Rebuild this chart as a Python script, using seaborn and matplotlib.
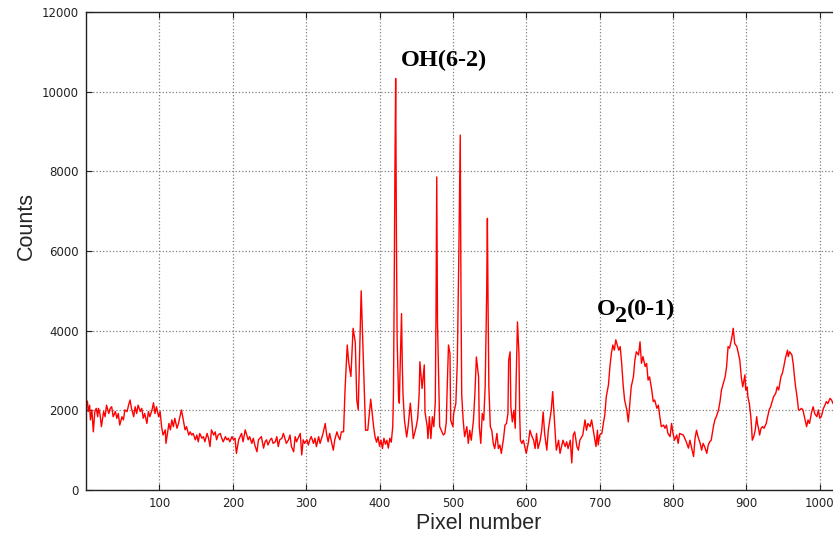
import matplotlib
matplotlib.use("Agg")
import matplotlib.pyplot as plt
import seaborn as sns

# Spectrum (pixel number, counts)
pixel = [
    0, 2, 3, 5, 6, 8, 10, 12, 14, 16, 17, 19, 21, 24, 26, 28, 31, 33, 35, 37,
    40, 42, 44, 46, 49, 51, 53, 56, 58, 60, 62, 65, 67, 69, 71, 74, 76, 78, 80, 83,
    85, 87, 90, 92, 94, 96, 99, 101, 103, 105, 108, 109, 111, 113, 115, 117, 119, 121, 124, 126,
    128, 130, 131, 133, 135, 137, 140, 142, 144, 146, 149, 151, 153, 155, 158, 160, 162, 165, 167, 169,
    171, 174, 176, 178, 180, 183, 185, 187, 190, 192, 194, 196, 199, 201, 203, 205, 208,
    210, 212, 214, 217, 219, 221, 223, 226, 228, 230, 233, 235, 237, 239, 242, 244, 246, 248, 251, 253,
    255, 258, 260, 262, 264, 267, 269, 271, 273, 276, 278, 280, 283, 285, 287, 289, 292, 294, 296, 298,
    301, 303, 305, 307, 310, 312, 314, 317, 319, 321, 323, 326, 328, 330, 332, 335, 337, 339, 342, 344,
    346, 348, 351,
    353, 356, 358, 361, 364, 367, 369, 371, 373, 375, 378, 381, 384, 386, 388, 392, 394, 396, 398, 400,
    402, 404, 406, 408, 410, 412, 414, 416, 418, 419, 420, 421, 422, 423, 424, 426, 427, 428, 430, 431,
    432, 434, 437, 439, 442, 444, 446, 450, 452, 454, 455, 458, 461, 462, 465, 466, 468, 470, 472, 474,
    476, 477, 478, 479, 481, 482, 487, 489, 491, 492, 494, 496, 497, 500, 501, 504, 506, 508, 510, 511,
    512, 514, 516, 519, 521, 523, 525, 528, 530, 532, 535, 536, 538, 540, 542, 544, 546, 547, 548, 549,
    551, 553, 555, 557, 560, 562, 564, 566, 569, 571, 573, 575, 576, 578, 579, 581, 583, 585, 586, 588,
    590, 591, 592, 594, 596, 598, 600, 603, 605, 607, 610, 612, 614, 616, 619, 621, 623, 625, 628, 630,
    632, 634, 636, 638, 640, 641, 644, 646, 648, 650, 653, 655, 657, 660, 662, 664, 666, 669, 671,
    673, 677, 680, 682, 684, 687, 689, 692, 695, 697, 698, 700, 703, 705, 707, 709, 712, 714, 716, 718,
    720, 722, 724, 726, 728, 730, 732, 734, 737, 739, 740, 743, 746, 748, 750, 753, 755, 757, 759, 762,
    764, 766, 768, 771, 773, 775, 778, 780, 782, 784, 787, 789, 791, 793, 796, 798, 800, 802, 805, 807,
    809, 814, 818, 821,
    823, 825, 828, 830, 832, 834, 837, 839, 841, 843, 846, 848, 850, 852, 855, 857, 859, 862, 864, 866,
    868, 871, 873, 875, 877, 880, 882, 884, 887, 889, 891, 893, 895, 897, 898, 899, 901, 902, 904, 906,
    907, 908, 910, 912, 914, 915, 917, 918, 920, 922, 924, 927, 928, 931, 933, 935, 937, 940, 942, 944,
    947, 949, 951, 953, 956, 957, 959, 962, 964, 965, 967, 969, 971, 973, 975, 977, 980, 982, 984, 986,
    989, 991, 993, 996, 998, 1000, 1002, 1005, 1007, 1009, 1011, 1014, 1016, 1018,
]
counts = [
    2260, 2220, 1970, 2130, 1760, 2010, 1460, 1970, 2050, 1840, 2050, 1920, 1590, 1970, 1840, 2130, 1920, 2050, 2090, 1840,
    1970, 1800, 1920, 1630, 1840, 1760, 2010, 1970, 2130, 2260, 2050, 1840, 2090, 1920, 2130, 1970, 2050, 1800, 1920, 1670,
    1970, 1840, 2010, 2190, 1920, 2090, 1840, 1970, 1590, 1380, 1510, 1170, 1420, 1670, 1510, 1760, 1590, 1800, 1550, 1670,
    1840, 2010, 1920, 1720, 1510, 1590, 1380, 1460, 1380, 1420, 1260, 1380, 1210, 1420, 1300, 1340, 1210, 1420, 1300, 1090,
    1510, 1380, 1460, 1260, 1380, 1420, 1300, 1210, 1340, 1260, 1300, 1210, 1340, 1260, 1300, 920, 1260,
    1340, 1420, 1210, 1510, 1380, 1260, 1340, 1170, 1300, 1130, 960, 1260, 1300, 1340, 1050, 1210, 1260, 1130, 1260, 1300,
    1170, 1210, 1340, 1090, 1260, 1300, 1420, 1300, 1170, 1260, 1380, 1090, 960, 1340, 1210, 1300, 1420, 880, 1260, 1170,
    1260, 1130, 1260, 1340, 1170, 1300, 1090, 1340, 1170, 1300, 1420, 1670, 1380, 1210, 1420, 1170, 1000, 1260, 1460, 1340,
    1260, 1460, 1460,
    2510, 3640, 3200, 2850, 4060, 3700, 2260, 2010, 3500, 5000, 3260, 1500, 1500, 1900, 2280, 1580, 1330, 1200, 1340, 1100,
    1250, 1040, 1300, 1150, 1250, 1050, 1300, 1200, 1580, 2400, 5000, 8000, 10330, 6500, 3800, 2300, 2180, 3000, 4430, 3200,
    2400, 1750, 1330, 1600, 2180, 1750, 1290, 1590, 1800, 2400, 3220, 2550, 3140, 1960, 1590, 1290, 1840, 1290, 1840, 1590,
    2200, 4500, 7860, 4200, 2400, 1590, 1380, 1420, 1700, 2420, 3640, 3430, 1750, 1590, 1920, 2170, 3200, 5800, 8910, 5000,
    2400, 1750, 1340, 1590, 1170, 1500, 1250, 1750, 2420, 3340, 2840, 1590, 1170, 1920, 1750, 2600, 4900, 6820, 4500, 2600,
    1590, 1500, 1170, 1040, 1420, 1040, 1130, 920, 1290, 1630, 1670, 1920, 3260, 3470, 2090, 1710, 2000, 1550, 2590, 4220,
    3430, 1920, 1250, 1170, 1250, 1090, 920, 1210, 1500, 1380, 1250, 1040, 1420, 1040, 1250, 1500, 1960, 1420, 1000, 1500,
    1750, 2000, 2470, 1840, 1250, 1000, 1250, 920, 1090, 1250, 1090, 1210, 1040, 1250, 680, 1380, 1460, 1090, 1000,
    1250, 1380, 1760, 1500, 1670, 1590, 1760, 1420, 1090, 1500, 1130, 1380, 1420, 1670, 1880, 2340, 2640, 3100, 3430, 3640,
    3510, 3770, 3640, 3510, 3600, 3180, 2640, 2260, 2010, 1710, 1920, 2590, 2840, 3260, 3470, 3390, 3720, 3180, 3350, 3100,
    3180, 2760, 2840, 2510, 2220, 2260, 2050, 2130, 1840, 1590, 1630, 1550, 1630, 1420, 1340, 1670, 1420, 1250, 1380, 1170,
    1420, 1380, 1210, 1050,
    1250, 1090, 840, 1300, 1500, 1340, 1170, 1000, 1170, 1090, 920, 1130, 1210, 1250, 1590, 1760, 1840, 2010, 2220, 2510,
    2640, 2840, 3100, 3600, 3560, 3810, 4060, 3680, 3600, 3430, 3260, 2840, 2590, 2800, 2890, 2510, 2590, 2340, 2170, 1840,
    1590, 1250, 1340, 1500, 1840, 1670, 1500, 1380, 1550, 1590, 1550, 1670, 1760, 2010, 2090, 2220, 2340, 2430, 2590, 2510,
    2840, 2930, 3100, 3300, 3510, 3350, 3470, 3390, 3140, 2930, 2590, 2340, 2010, 2010, 2050, 2010, 1760, 1590, 1760, 1670,
    1970, 2090, 1920, 1840, 2010, 1800, 1840, 2050, 2130, 2220, 2170, 2300, 2260, 2170,
]

x_ticks = [100, 200, 300, 400, 500, 600, 700, 800, 900, 1000]
y_ticks = [0, 2000, 4000, 6000, 8000, 10000, 12000]


def main():
    sns.set_theme(style="white")
    plt.rcParams["font.family"] = ["DejaVu Sans"]

    fig = plt.figure(figsize=(8.33, 5.34), dpi=100)
    ax = fig.add_axes([86 / 833, 44 / 534, 747 / 833, 478 / 534])

    sns.lineplot(x=pixel, y=counts, color="#ff0000", linewidth=1.0,
                 estimator=None, ax=ax)

    ax.set_xlim(0, 1018)
    ax.set_ylim(0, 12000)
    ax.set_xticks(x_ticks)
    ax.set_yticks(y_ticks)

    # dotted grid like the old matplotlib look
    ax.grid(True, linestyle=":", color="#808080", linewidth=0.9)
    ax.tick_params(direction="in", length=4, width=0.8, colors="#222222",
                   labelsize=8.5, top=True, bottom=True, left=True, right=False, pad=5)
    for side in ["top", "bottom", "left"]:
        ax.spines[side].set_color("#222222")
        ax.spines[side].set_linewidth(1.0)
    ax.spines["right"].set_visible(False)

    ax.set_xlabel("Pixel number", fontsize=15.5, family="Liberation Sans")
    ax.set_ylabel("Counts", fontsize=15.5, family="Liberation Sans")
    ax.xaxis.set_label_coords(0.526, -0.048)
    ax.yaxis.set_label_coords(-0.066, 0.552)

    # band labels
    serif = dict(family="Liberation Serif", fontweight="bold", fontsize=17.5, color="black")
    ax.text(488, 10650, "OH(6-2)", ha="center", va="baseline", **serif)
    ax.text(696, 4393, "O", ha="left", va="baseline", **serif)
    ax.text(721, 4217, "2", ha="left", va="baseline", **serif)
    ax.text(737, 4393, "(0-1)", ha="left", va="baseline", **serif)

    fig.savefig("out.png", dpi=100)


if __name__ == "__main__":
    main()
